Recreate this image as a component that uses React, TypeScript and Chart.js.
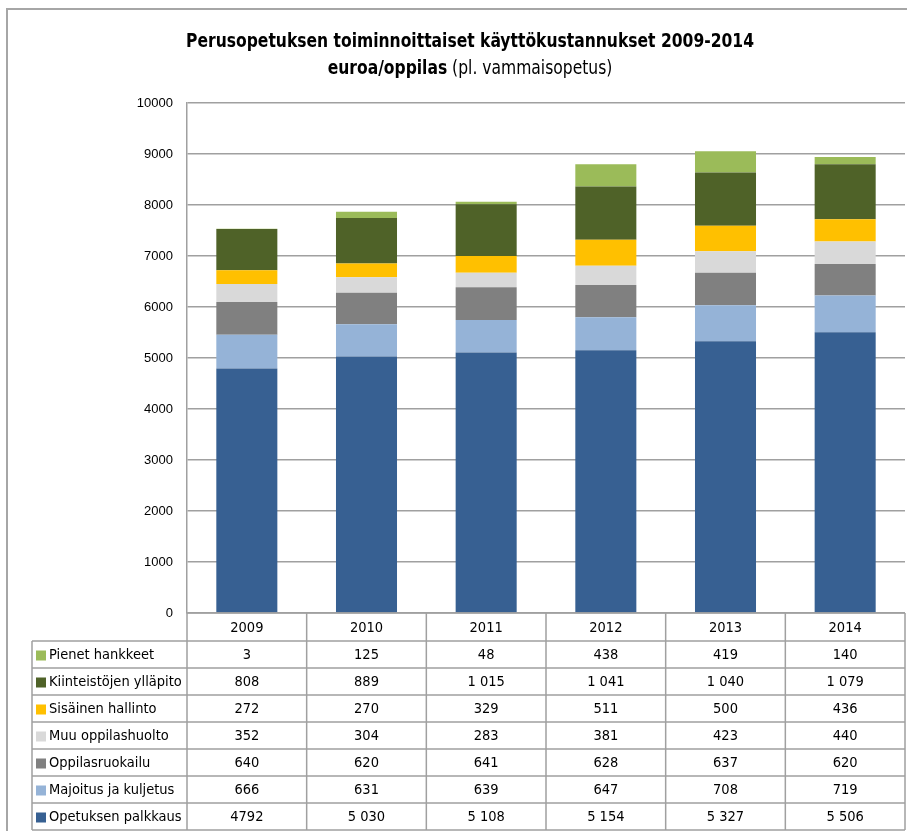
import { useEffect, useRef } from 'react';
import { Chart, registerables } from 'chart.js';

Chart.register(...registerables);

const categories = ['2009', '2010', '2011', '2012', '2013', '2014'];

const opetuksenPalkkaus = [4792, 5030, 5108, 5154, 5327, 5506];
const majoitusJaKuljetus = [666, 631, 639, 647, 708, 719];
const oppilasruokailu = [640, 620, 641, 628, 637, 620];
const muuOppilashuolto = [352, 304, 283, 381, 423, 440];
const sisainenHallinto = [272, 270, 329, 511, 500, 436];
const kiinteistojenYllapito = [808, 889, 1015, 1041, 1040, 1079];
const pienetHankkeet = [3, 125, 48, 438, 419, 140];

const seriesNames = [
  'Opetuksen palkkaus',
  'Majoitus ja kuljetus',
  'Oppilasruokailu',
  'Muu oppilashuolto',
  'Sisäinen hallinto',
  'Kiinteistöjen ylläpito',
  'Pienet hankkeet',
];
const seriesValues = [
  opetuksenPalkkaus,
  majoitusJaKuljetus,
  oppilasruokailu,
  muuOppilashuolto,
  sisainenHallinto,
  kiinteistojenYllapito,
  pienetHankkeet,
];
const seriesColors = ['#376092', '#95B3D7', '#808080', '#D9D9D9', '#FFC000', '#4F6228', '#9BBB59'];

const yMin = 0;
const yMax = 10000;
const yStep = 1000;

const titleLine1 = 'Perusopetuksen toiminnoittaiset käyttökustannukset 2009-2014';
const titleLine2Bold = 'euroa/oppilas';
const titleLine2Regular = ' (pl. vammaisopetus)';

// cells printed without a thousands separator in the source table: [seriesIndex, categoryIndex]
const ungroupedCells = [[0, 0]];

function formatCell(v: number, s: number, c: number): string {
  if (ungroupedCells.some(([a, b]) => a === s && b === c)) return String(v);
  return String(v).replace(/\B(?=(\d{3})+(?!\d))/g, ' ');
}

const TABLE_FONT = '14.5px "DejaVu Sans Condensed", "DejaVu Sans", sans-serif';
const TITLE_FAMILY = '"DejaVu Sans Condensed", "DejaVu Sans", sans-serif';
const BORDER = '#a0a0a0';

const frameAndTitle = {
  id: 'frameAndTitle',
  beforeDraw(chart: any) {
    const ctx = chart.ctx;
    ctx.save();
    ctx.fillStyle = '#ffffff';
    ctx.fillRect(0, 0, chart.width, chart.height);
    ctx.strokeStyle = '#a6a6a6';
    ctx.lineWidth = 2;
    ctx.beginPath();
    ctx.moveTo(7, chart.height + 5);
    ctx.lineTo(7, 9);
    ctx.lineTo(chart.width + 5, 9);
    ctx.stroke();

    const cx = 470;
    const sx = 0.91;
    ctx.fillStyle = '#000';
    ctx.textBaseline = 'middle';
    ctx.textAlign = 'center';
    ctx.save();
    ctx.translate(cx, 0);
    ctx.scale(sx, 1);
    ctx.font = 'bold 19px ' + TITLE_FAMILY;
    ctx.fillText(titleLine1, 0, 42);
    const boldFont = 'bold 19px ' + TITLE_FAMILY;
    const regFont = '19px ' + TITLE_FAMILY;
    ctx.font = boldFont;
    const w1 = ctx.measureText(titleLine2Bold).width;
    ctx.font = regFont;
    const w2 = ctx.measureText(titleLine2Regular).width;
    const start = -(w1 + w2) / 2;
    ctx.textAlign = 'left';
    ctx.font = boldFont;
    ctx.fillText(titleLine2Bold, start, 69);
    ctx.font = regFont;
    ctx.fillText(titleLine2Regular, start + w1, 69);
    ctx.restore();
    ctx.restore();
  },
};

const dataTable = {
  id: 'dataTable',
  afterDraw(chart: any) {
    const ctx = chart.ctx;
    const x = chart.scales.x;
    const area = chart.chartArea;
    const n = categories.length;
    const colW = (area.right - area.left) / n;
    const headTop = area.bottom;
    const rowH = 27;
    const headBottom = headTop + 28;
    const legendLeft = 32;
    const nRows = seriesNames.length;
    const tableBottom = headBottom + rowH * nRows;

    ctx.save();
    ctx.strokeStyle = BORDER;
    ctx.lineWidth = 1.5;
    ctx.beginPath();
    ctx.moveTo(area.left, headTop);
    ctx.lineTo(area.right, headTop);
    for (let r = 0; r <= nRows; r++) {
      const y = headBottom + r * rowH;
      ctx.moveTo(legendLeft, y);
      ctx.lineTo(area.right, y);
    }
    for (let c = 0; c <= n; c++) {
      const xx = area.left + c * colW;
      ctx.moveTo(xx, headTop);
      ctx.lineTo(xx, tableBottom);
    }
    ctx.moveTo(legendLeft, headBottom);
    ctx.lineTo(legendLeft, tableBottom);
    ctx.stroke();

    ctx.fillStyle = '#000';
    ctx.font = TABLE_FONT;
    ctx.textBaseline = 'middle';
    ctx.textAlign = 'center';
    categories.forEach((cat, i) => {
      ctx.fillText(cat, x.getPixelForValue(i), (headTop + headBottom) / 2 + 1);
    });

    for (let r = 0; r < nRows; r++) {
      const s = nRows - 1 - r;
      const yc = headBottom + r * rowH + rowH / 2 + 1;
      ctx.fillStyle = seriesColors[s];
      ctx.fillRect(36, yc - 5, 10, 10);
      ctx.fillStyle = '#000';
      ctx.textAlign = 'left';
      ctx.fillText(seriesNames[s], 49, yc);
      ctx.textAlign = 'center';
      seriesValues[s].forEach((v, c) => {
        ctx.fillText(formatCell(v, s, c), x.getPixelForValue(c), yc);
      });
    }
    ctx.restore();
  },
};

export default function App() {
  const ref = useRef<HTMLCanvasElement>(null);
  useEffect(() => {
    document.body.style.margin = '0';
    const chart = new Chart(ref.current!, {
      type: 'bar',
      data: {
        labels: categories,
        datasets: seriesNames.map((name, i) => ({
          label: name,
          data: seriesValues[i],
          backgroundColor: seriesColors[i],
          borderWidth: 0,
          categoryPercentage: 1,
          barPercentage: 0.51,
        })),
      },
      options: {
        responsive: false,
        animation: false,
        layout: { padding: { left: 0, right: 2, top: 103, bottom: 218 } },
        plugins: {
          legend: { display: false },
          title: { display: false },
          tooltip: { enabled: false },
        },
        scales: {
          x: {
            stacked: true,
            display: false,
          },
          y: {
            stacked: true,
            min: yMin,
            max: yMax,
            afterFit: (s: any) => {
              s.width = 187;
            },
            ticks: {
              stepSize: yStep,
              padding: 14,
              color: '#000',
              callback: (v: any) => String(v),
              font: { family: '"Liberation Sans", Arial, sans-serif', size: 13 },
            },
            grid: {
              color: BORDER,
              lineWidth: 1.5,
              drawTicks: false,
            },
            border: { color: BORDER, width: 1.5 },
          },
        },
      },
      plugins: [frameAndTitle, dataTable],
    });
    return () => chart.destroy();
  }, []);
  return (
    <div style={{ width: 907, height: 831 }}>
      <canvas ref={ref} width={907} height={831} style={{ display: 'block' }} />
    </div>
  );
}
